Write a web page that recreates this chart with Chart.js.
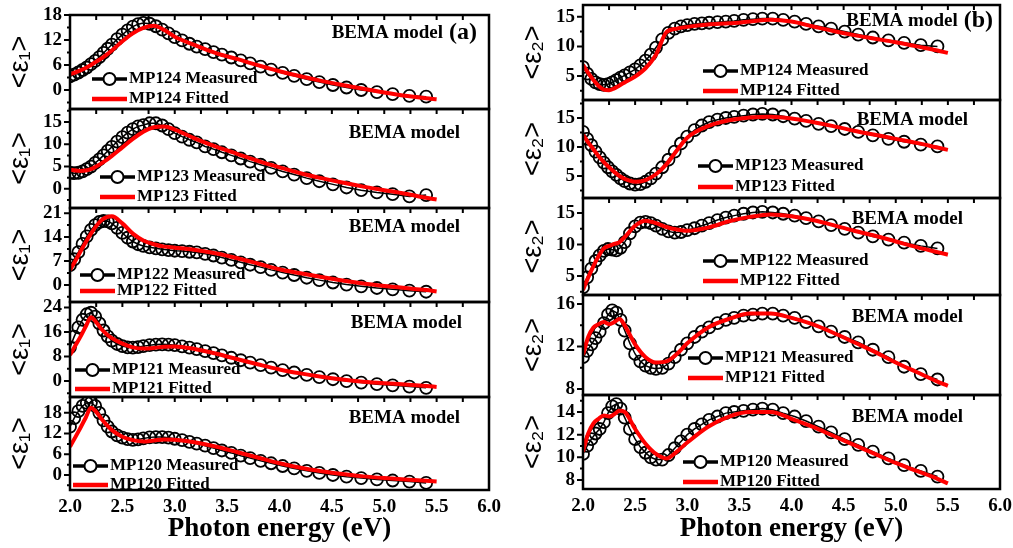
<!DOCTYPE html>
<html>
<head>
<meta charset="utf-8">
<script src="https://cdn.jsdelivr.net/npm/chart.js@4.4.0/dist/chart.umd.min.js"></script>
<style>
  body { margin: 0; background: #fff; }
  #wrap { position: relative; width: 1013px; height: 548px; overflow: hidden; background: #fff; }
  #wrap canvas { position: absolute; }
</style>
</head>
<body>
<div id="wrap"></div>
<script>
// photon energies (eV) of the measured points and of the fitted curve
var energyMeas = [2.00, 2.04, 2.08, 2.12, 2.16, 2.20, 2.24, 2.28, 2.32, 2.36, 2.40,
  2.45, 2.50, 2.55, 2.60, 2.65, 2.70, 2.76, 2.82, 2.88, 2.94, 3.00,
  3.07, 3.14, 3.21, 3.29, 3.37, 3.45, 3.54, 3.63, 3.72, 3.82, 3.92,
  4.03, 4.14, 4.26, 4.38, 4.51, 4.64, 4.78, 4.93, 5.08, 5.24, 5.40];
var energyFit = [2.0, 2.05, 2.1, 2.15, 2.2, 2.25, 2.3, 2.35, 2.4,
  2.5, 2.6, 2.7, 2.8, 2.9, 3.0,
  3.2, 3.4, 3.6, 3.8, 4.0, 4.2, 4.4, 4.6, 4.8, 5.0, 5.2, 5.4, 5.5];

var xTicks = [2.0, 2.5, 3.0, 3.5, 4.0, 4.5, 5.0, 5.5, 6.0];

// <e1> panels (a)
var mp124E1Meas = [3.3, 3.7, 4.2, 4.8, 5.4, 6.2, 7.0, 7.9, 8.9, 9.9, 10.9,
  12.2, 13.3, 14.3, 15.2, 15.8, 16.1, 15.9, 15.3, 14.5, 13.6, 12.7,
  11.9, 11.1, 10.4, 9.8, 9.1, 8.5, 7.8, 7.1, 6.4, 5.6, 4.9,
  4.1, 3.4, 2.6, 1.9, 1.2, 0.6, 0.0, -0.5, -1.0, -1.4, -1.6];
var mp124E1Fit = [3.8, 4.2, 4.7, 5.3, 6.0, 6.8, 7.6, 8.5, 9.5,
  11.7, 13.6, 14.9, 15.4, 14.4, 12.8,
  10.7, 8.8, 7.4, 5.9, 4.5, 3.3, 2.2, 1.2, 0.3, -0.6, -1.4, -2.0, -2.2];

var mp123E1Meas = [3.6, 3.5, 3.6, 3.9, 4.4, 5.0, 5.8, 6.6, 7.5, 8.5, 9.4,
  10.6, 11.6, 12.6, 13.4, 14.0, 14.3, 14.7, 14.7, 14.2, 13.4, 12.5,
  11.7, 11.0, 10.4, 9.5, 8.9, 8.2, 7.5, 6.8, 6.1, 5.4, 4.7,
  3.9, 3.2, 2.4, 1.7, 1.0, 0.3, -0.3, -0.8, -1.2, -1.7, -1.4];
var mp123E1Fit = [4.3, 4.1, 4.0, 4.1, 4.4, 5.0, 5.7, 6.5, 7.4,
  9.3, 11.2, 12.8, 13.8, 14.0, 13.3,
  11.2, 9.4, 7.8, 6.2, 4.8, 3.5, 2.4, 1.4, 0.5, -0.3, -1.1, -2.0, -2.4];

var mp122E1Meas = [5.8, 7.5, 9.6, 12.0, 14.2, 16.1, 17.5, 18.4, 18.7, 18.6, 18.0,
  16.7, 15.2, 13.8, 12.7, 11.9, 11.4, 11.0, 10.7, 10.4, 10.2, 10.0,
  9.9, 9.7, 9.5, 9.1, 8.6, 8.0, 7.3, 6.6, 5.9, 5.2, 4.4,
  3.6, 2.9, 2.1, 1.4, 0.7, 0.1, -0.4, -0.9, -1.3, -1.7, -2.0];
var mp122E1Fit = [4.4, 7.0, 9.8, 12.5, 15.0, 17.2, 18.9, 19.8, 20.1,
  18.0, 15.0, 13.0, 11.9, 11.2, 10.9,
  10.2, 9.2, 7.8, 6.2, 4.6, 3.4, 2.3, 1.3, 0.4, -0.3, -0.9, -1.5, -1.9];

var mp121E1Meas = [11.0, 14.5, 17.5, 20.0, 21.8, 22.3, 21.0, 18.8, 16.5, 14.6, 13.2,
  12.1, 11.4, 11.0, 10.9, 11.1, 11.4, 11.7, 11.9, 12.0, 11.9, 11.7,
  11.3, 10.9, 10.4, 9.8, 9.1, 8.4, 7.6, 6.8, 6.0, 5.2, 4.4,
  3.6, 2.8, 2.0, 1.3, 0.6, 0.0, -0.5, -1.0, -1.4, -1.8, -2.2];
var mp121E1Fit = [8.5, 11.5, 14.5, 17.8, 20.8, 19.2, 17.0, 15.3, 14.0,
  12.2, 11.0, 10.6, 10.8, 11.2, 11.3,
  10.4, 8.9, 7.1, 5.4, 3.8, 2.5, 1.4, 0.5, -0.2, -0.7, -1.1, -1.6, -1.9];

var mp120E1Meas = [14.0, 16.5, 18.5, 20.0, 20.9, 21.0, 20.0, 18.0, 15.8, 14.0, 12.6,
  11.5, 10.8, 10.4, 10.2, 10.3, 10.6, 10.9, 11.0, 11.0, 10.8, 10.5,
  10.1, 9.6, 9.1, 8.5, 7.8, 7.1, 6.4, 5.6, 4.9, 4.1, 3.4,
  2.6, 1.9, 1.2, 0.6, 0.0, -0.5, -0.9, -1.3, -1.6, -1.9, -2.3];
var mp120E1Fit = [8.2, 10.9, 13.7, 16.6, 19.5, 18.3, 16.3, 14.5, 13.0,
  11.1, 10.1, 9.7, 10.0, 10.3, 10.2,
  9.4, 8.2, 6.6, 5.0, 3.4, 2.1, 1.1, 0.3, -0.4, -0.9, -1.3, -1.7, -1.9];

// <e2> panels (b)
var mp124E2Meas = [6.5, 5.4, 4.5, 3.9, 3.6, 3.5, 3.6, 3.9, 4.3, 4.7, 5.1,
  5.6, 6.1, 6.8, 7.6, 8.6, 9.8, 11.2, 12.3, 13.0, 13.4, 13.6,
  13.8, 13.9, 14.0, 14.1, 14.2, 14.3, 14.5, 14.6, 14.7, 14.7, 14.5,
  14.2, 13.8, 13.4, 13.0, 12.5, 12.0, 11.5, 11.0, 10.6, 10.2, 10.0];
var mp124E2Fit = [6.9, 5.5, 4.3, 3.3, 2.7, 2.6, 2.9, 3.4, 3.9,
  4.9, 6.3, 8.6, 12.4, 13.0, 13.3,
  13.7, 13.9, 14.2, 14.5, 14.2, 13.4, 12.6, 11.9, 11.3, 10.7, 10.0, 9.3, 8.9];

var mp123E2Meas = [12.6, 11.4, 10.3, 9.2, 8.2, 7.3, 6.5, 5.8, 5.2, 4.6, 4.1,
  3.7, 3.5, 3.6, 4.0, 4.6, 5.4, 6.5, 7.8, 9.2, 10.6, 11.8,
  12.9, 13.7, 14.3, 14.7, 15.0, 15.2, 15.4, 15.6, 15.7, 15.6, 15.3,
  14.9, 14.5, 14.0, 13.6, 13.1, 12.6, 12.0, 11.4, 10.9, 10.4, 10.1];
var mp123E2Fit = [12.1, 10.8, 9.6, 8.4, 7.4, 6.5, 5.7, 5.0, 4.5,
  4.0, 4.3, 5.3, 7.0, 9.4, 11.6,
  13.6, 14.6, 15.1, 15.2, 14.9, 14.3, 13.6, 12.8, 12.1, 11.4, 10.7, 9.9, 9.5];

var mp122E2Meas = [3.2, 4.8, 6.2, 7.4, 8.3, 9.0, 9.3, 9.2, 9.1, 9.5, 10.4,
  11.8, 12.9, 13.5, 13.6, 13.4, 13.0, 12.5, 12.1, 11.9, 12.0, 12.3,
  12.6, 13.0, 13.4, 13.9, 14.3, 14.6, 14.9, 15.1, 15.2, 15.1, 14.9,
  14.6, 14.2, 13.7, 13.1, 12.5, 11.9, 11.3, 10.8, 10.3, 9.8, 9.4];
var mp122E2Fit = [2.8, 4.8, 6.6, 8.2, 9.4, 9.8, 10.1, 10.4, 11.2,
  13.0, 13.8, 13.4, 12.8, 12.4, 12.2,
  12.7, 13.7, 14.4, 14.8, 14.5, 13.9, 13.1, 12.2, 11.4, 10.5, 9.6, 8.8, 8.4];

var mp121E2Meas = [11.0, 11.6, 12.2, 12.8, 13.4, 14.2, 15.0, 15.4, 15.2, 14.5, 13.5,
  12.3, 11.3, 10.6, 10.2, 10.0, 9.9, 10.0, 10.4, 11.0, 11.7, 12.3,
  12.9, 13.4, 13.8, 14.2, 14.5, 14.7, 14.9, 15.0, 15.1, 15.1, 14.9,
  14.7, 14.3, 13.9, 13.4, 12.9, 12.4, 11.7, 11.0, 10.1, 9.4, 8.9];
var mp121E2Fit = [11.2, 12.9, 13.8, 14.1, 14.3, 14.1, 14.3, 14.6, 14.0,
  12.2, 11.0, 10.5, 10.6, 11.3, 12.3,
  13.8, 14.6, 15.1, 15.1, 14.7, 14.1, 13.3, 12.4, 11.5, 10.5, 9.6, 8.7, 8.3];

var mp120E2Meas = [10.3, 11.0, 11.6, 12.1, 12.5, 13.1, 13.9, 14.5, 14.7, 14.3, 13.5,
  12.5, 11.6, 10.9, 10.4, 10.0, 9.8, 9.8, 10.2, 10.8, 11.4, 12.0,
  12.5, 12.9, 13.3, 13.6, 13.9, 14.0, 14.1, 14.2, 14.3, 14.2, 13.9,
  13.6, 13.2, 12.7, 12.2, 11.6, 11.1, 10.5, 9.9, 9.3, 8.8, 8.3];
var mp120E2Fit = [10.5, 12.1, 13.0, 13.4, 13.7, 13.6, 13.8, 14.1, 14.0,
  12.5, 11.2, 10.3, 9.9, 10.5, 11.3,
  12.7, 13.6, 14.0, 14.0, 13.4, 12.7, 11.9, 11.1, 10.3, 9.5, 8.8, 8.1, 7.7];

// y tick labels
var e1Ticks124 = [0, 6, 12, 18];
var e1Ticks123 = [0, 5, 10, 15];
var e1Ticks122 = [0, 7, 14, 21];
var e1Ticks121 = [0, 8, 16, 24];
var e1Ticks120 = [0, 6, 12, 18];
var e2Ticks124 = [5, 10, 15];
var e2Ticks123 = [5, 10, 15];
var e2Ticks122 = [5, 10, 15];
var e2Ticks121 = [8, 10, 12, 14, 16];
var e2Ticks120 = [8, 10, 12, 14];

var cols = [
  { left: 70, right: 489, title: '<ε₁>' },
  { left: 583, right: 1000, title: '<ε₂>' }
];

var panels = [
  { col: 0, top: 15, bottom: 109, name: 'MP124', meas: mp124E1Meas, fit: mp124E1Fit, yTicks: e1Ticks124, min: -4.56, max: 18, leg: [22, 64, 84], bema: [407, 18, '(a)'] },
  { col: 0, top: 109, bottom: 208, name: 'MP123', meas: mp123E1Meas, fit: mp123E1Fit, yTicks: e1Ticks123, min: -4.3, max: 17.9, leg: [30, 68, 88], bema: [390, 24] },
  { col: 0, top: 208, bottom: 302, name: 'MP122', meas: mp122E1Meas, fit: mp122E1Fit, yTicks: e1Ticks122, min: -5.0, max: 22.5, leg: [10, 67, 83], bema: [390, 19] },
  { col: 0, top: 302, bottom: 397, name: 'MP121', meas: mp121E1Meas, fit: mp121E1Fit, yTicks: e1Ticks121, min: -5.2, max: 25.8, leg: [5, 68, 87], bema: [392, 21] },
  { col: 0, top: 397, bottom: 490, name: 'MP120', meas: mp120E1Meas, fit: mp120E1Fit, yTicks: e1Ticks120, min: -4.35, max: 22.6, leg: [3, 69, 88], bema: [390, 21], last: true },
  { col: 1, top: 5, bottom: 100, name: 'MP124', meas: mp124E2Meas, fit: mp124E2Fit, yTicks: e2Ticks124, min: 0.93, max: 17.0, leg: [120, 66, 86], bema: [410, 16, '(b)'] },
  { col: 1, top: 100, bottom: 198, name: 'MP123', meas: mp123E2Meas, fit: mp123E2Fit, yTicks: e2Ticks123, min: 1.2, max: 18.1, leg: [115, 66, 87], bema: [385, 20] },
  { col: 1, top: 198, bottom: 295, name: 'MP122', meas: mp122E2Meas, fit: mp122E2Fit, yTicks: e2Ticks122, min: 2.0, max: 17.4, leg: [120, 63, 83], bema: [380, 21] },
  { col: 1, top: 295, bottom: 395, name: 'MP121', meas: mp121E2Meas, fit: mp121E2Fit, yTicks: e2Ticks121, min: 7.44, max: 16.85, leg: [105, 63, 83], bema: [380, 22] },
  { col: 1, top: 395, bottom: 489, name: 'MP120', meas: mp120E2Meas, fit: mp120E2Fit, yTicks: e2Ticks120, min: 7.2, max: 15.5, leg: [100, 67, 87], bema: [380, 22], last: true }
];

// frame, inner ticks, in-panel legend and "BEMA model" label
var panelDecor = {
  id: 'panelDecor',
  afterDatasetsDraw: function (chart, args, o) {
    var ctx = chart.ctx, a = chart.chartArea;
    var xs = chart.scales.x, ys = chart.scales.y;
    ctx.save();
    ctx.strokeStyle = '#000';
    ctx.lineWidth = 2;
    ctx.beginPath();
    for (var i = 0; i < xTicks.length - 1; i++) {
      var vals = [(xTicks[i] + xTicks[i + 1]) / 2];
      if (i > 0) vals.push(xTicks[i]);
      vals.forEach(function (v) {
        var px = xs.getPixelForValue(v);
        ctx.moveTo(px, a.top);
        ctx.lineTo(px, a.top + 5);
      });
    }
    var yt = ys.ticks.map(function (t) { return t.value; });
    var step = yt[1] - yt[0];
    yt.forEach(function (v, k) {
      var py = ys.getPixelForValue(v);
      ctx.moveTo(a.left - 6, py);
      ctx.lineTo(a.left, py);
      var mids = [v + step / 2];
      if (k === 0) mids.push(v - step / 2);
      mids.forEach(function (m) {
        if (m > ys.min && m < ys.max) {
          var pm = ys.getPixelForValue(m);
          ctx.moveTo(a.left - 3, pm);
          ctx.lineTo(a.left, pm);
        }
      });
    });
    ctx.stroke();
    ctx.lineWidth = 2.5;
    ctx.strokeRect(a.left, a.top, a.right - a.left, a.bottom - a.top);

    // legend
    var lx = a.left + o.legX, my = a.top + o.measY, fy = a.top + o.fitY;
    ctx.lineWidth = 3.5;
    ctx.beginPath();
    ctx.moveTo(lx, my); ctx.lineTo(lx + 35, my);
    ctx.stroke();
    ctx.beginPath();
    ctx.arc(lx + 17.5, my, 6, 0, Math.PI * 2);
    ctx.fillStyle = '#fff';
    ctx.fill();
    ctx.lineWidth = 2;
    ctx.stroke();
    ctx.strokeStyle = '#ff0000';
    ctx.lineWidth = 4.5;
    ctx.beginPath();
    ctx.moveTo(lx, fy); ctx.lineTo(lx + 35, fy);
    ctx.stroke();
    ctx.fillStyle = '#000';
    ctx.textBaseline = 'middle';
    ctx.textAlign = 'left';
    ctx.font = 'bold 17px "Liberation Serif"';
    ctx.fillText(o.name + ' Measured', lx + 37, my);
    ctx.fillText(o.name + ' Fitted', lx + 37, fy);

    // model label
    var bx = a.left + o.bemaX, by = a.top + o.bemaY;
    ctx.textAlign = 'right';
    if (o.tag) {
      ctx.font = 'bold 24px "Liberation Serif"';
      ctx.fillText(o.tag, bx, by);
      bx -= ctx.measureText(o.tag).width + 6;
    }
    ctx.font = 'bold 19px "Liberation Serif"';
    ctx.fillText('BEMA model', bx, by);
    ctx.restore();
  }
};
Chart.register(panelDecor);
Chart.defaults.font.family = '"Liberation Serif", "Times New Roman", serif';
Chart.defaults.color = '#000';

function toPoints(xv, yv) {
  return yv.map(function (v, i) { return { x: xv[i], y: v }; });
}

var PAD = 14;   // room round each plot box, kept larger than half a tick label
var wrap = document.getElementById('wrap');
panels.forEach(function (p) {
  var c = cols[p.col];
  var w = 70 + (c.right - c.left) + PAD;
  var h = p.last ? 548 - (p.top - PAD) : (p.bottom - p.top) + 2 * PAD;
  var cv = document.createElement('canvas');
  cv.width = w;
  cv.height = h;
  cv.style.left = (c.left - 70) + 'px';
  cv.style.top = (p.top - PAD) + 'px';
  wrap.appendChild(cv);

  new Chart(cv, {
    type: 'line',
    data: {
      datasets: [{
        label: p.name + ' Fitted',
        data: toPoints(energyFit, p.fit),
        borderColor: '#ff0000',
        borderWidth: 4,
        pointRadius: 0,
        cubicInterpolationMode: 'monotone',
        order: 1
      }, {
        label: p.name + ' Measured',
        data: toPoints(energyMeas, p.meas),
        borderColor: '#000',
        borderWidth: 1.5,
        pointRadius: 6,
        pointBorderWidth: 1.8,
        pointBorderColor: '#000',
        pointBackgroundColor: 'rgba(0,0,0,0)',
        tension: 0,
        order: 2
      }]
    },
    options: {
      responsive: false,
      animation: false,
      events: [],
      layout: { autoPadding: false, padding: { top: PAD, right: PAD, bottom: p.last ? 0 : PAD, left: 0 } },
      plugins: {
        legend: { display: false },
        tooltip: { enabled: false },
        panelDecor: {
          name: p.name,
          legX: p.leg[0], measY: p.leg[1], fitY: p.leg[2],
          bemaX: p.bema[0], bemaY: p.bema[1], tag: p.bema[2] || ''
        }
      },
      scales: {
        x: {
          type: 'linear',
          min: 2,
          max: 6,
          display: !!p.last,
          afterBuildTicks: function (s) { s.ticks = xTicks.map(function (v) { return { value: v }; }); },
          afterFit: function (s) { s.height = p.last ? 548 - p.bottom : 0; },
          grid: { drawOnChartArea: false, drawTicks: true, tickLength: 6, tickColor: 'rgba(0,0,0,0)' },
          border: { display: false },
          ticks: {
            padding: 0,
            maxRotation: 0,
            autoSkip: false,
            font: { size: 19, weight: 'bold' },
            callback: function (v) { return Number(v).toFixed(1); }
          },
          title: {
            display: true,
            text: 'Photon energy (eV)',
            font: { size: 27, weight: 'bold', lineHeight: 1.2 },
            padding: { top: 0, bottom: 3 }
          }
        },
        y: {
          min: p.min,
          max: p.max,
          afterBuildTicks: function (s) { s.ticks = p.yTicks.map(function (v) { return { value: v }; }); },
          afterFit: function (s) { s.width = 70; },
          grid: { drawOnChartArea: false, drawTicks: true, tickLength: 8, tickColor: 'rgba(0,0,0,0)' },
          border: { display: false },
          ticks: { padding: 0, font: { size: 19, weight: 'bold' } },
          title: {
            display: true,
            text: c.title,
            font: { family: '"Liberation Sans", "DejaVu Sans", sans-serif', size: 27, lineHeight: 1.2 },
            padding: { top: 4, bottom: 0 }
          }
        }
      }
    }
  });
});
</script>
</body>
</html>
